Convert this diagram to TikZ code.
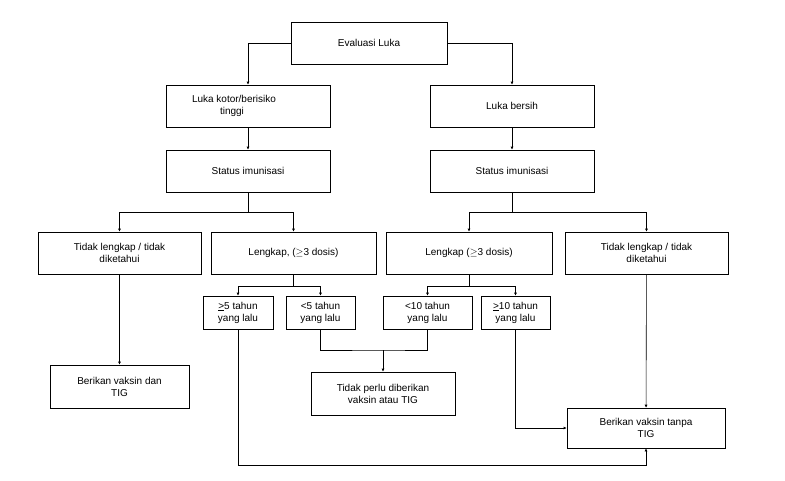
\documentclass[tikz,border=0pt]{standalone}
\usepackage{fontspec}
\setmainfont{Liberation Sans}
\begin{document}
\begin{tikzpicture}[x=1pt,y=-1pt,
  bx/.style={draw,line width=0.6pt,inner sep=0pt,font=\fontsize{10}{12}\selectfont,align=center},
  ln/.style={line width=0.6pt},
  ar/.style={ln,-{Latex[length=3pt,width=3pt]}}]
\usetikzlibrary{arrows.meta}
\useasboundingbox (0,0) rectangle (785,480);
\newcommand{\bxat}[6]{\node[bx,minimum width=#3-#1,minimum height=#4-#2,#6] (#5) at ({(#1+#3)/2},{(#2+#4)/2}) {};}
\node[bx,minimum width=156,minimum height=42] (ev) at (369,43) {Evaluasi Luka};
\node[bx,minimum width=164,minimum height=42,align=left] (lk) at (248,106) {\hspace*{-28pt}Luka kotor/berisiko\\tinggi};
\node[bx,minimum width=164,minimum height=42] (lb) at (512,106) {Luka bersih};
\node[bx,minimum width=164,minimum height=42] (sl) at (248,171) {Status imunisasi};
\node[bx,minimum width=164,minimum height=42] (sr) at (512,171) {Status imunisasi};
\node[bx,minimum width=163,minimum height=42] (tl) at (119.5,253) {Tidak lengkap / tidak\\diketahui};
\node[bx,minimum width=165,minimum height=42] (ll) at (293.5,253) {Lengkap, ($\geq$3 dosis)};
\node[bx,minimum width=166,minimum height=42] (lr) at (469,253) {Lengkap ($\geq$3 dosis)};
\node[bx,minimum width=163,minimum height=42] (tr) at (646.5,253) {Tidak lengkap / tidak\\diketahui};
\node[bx,minimum width=70,minimum height=33] (a5) at (238,312.5) {\underline{>}5 tahun\\yang lalu};
\node[bx,minimum width=69,minimum height=33] (b5) at (320.5,312.5) {<5 tahun\\yang lalu};
\node[bx,minimum width=89,minimum height=33] (b10) at (427.5,312.5) {<10 tahun\\yang lalu};
\node[bx,minimum width=69,minimum height=33] (a10) at (515.5,312.5) {\underline{>}10 tahun\\yang lalu};
\node[bx,minimum width=139,minimum height=43] (bd) at (119.5,386.5) {Berikan vaksin dan\\TIG};
\node[bx,minimum width=144,minimum height=43] (tp) at (383,393.5) {Tidak perlu diberikan\\vaksin atau TIG};
\node[bx,minimum width=158,minimum height=40] (bt) at (646,428) {Berikan vaksin tanpa\\TIG};
\draw[ar] (ev.west) -| (lk.north);
\draw[ar] (ev.east) -| (lb.north);
\draw[ar] (lk) -- (sl);
\draw[ar] (lb) -- (sr);
\draw[ln] (sl.south) -- (248,212);
\draw[ar] (248,212) -| (tl.north);
\draw[ar] (248,212) -| (ll.north);
\draw[ln] (sr.south) -- (512,212);
\draw[ar] (512,212) -| (lr.north);
\draw[ar] (512,212) -| (tr.north);
\draw[ln] (ll.south) -- (293.5,286);
\draw[ar] (293.5,286) -| (a5.north);
\draw[ar] (293.5,286) -| (b5.north);
\draw[ln] (lr.south) -- (469,286);
\draw[ar] (469,286) -| (b10.north);
\draw[ar] (469,286) -| (a10.north);
\draw[ar] (tl) -- (bd);
\draw[ln] (b5.south) |- (383,350) -| (b10.south);
\draw[ar] (383,350) -- (tp.north);
\draw[ar] (a10.south) |- (bt.west);
\draw[ar] (a5.south) |- (646,465) -- (bt.south);
\draw[ar] (tr) -- (bt);
\end{tikzpicture}
\end{document}
